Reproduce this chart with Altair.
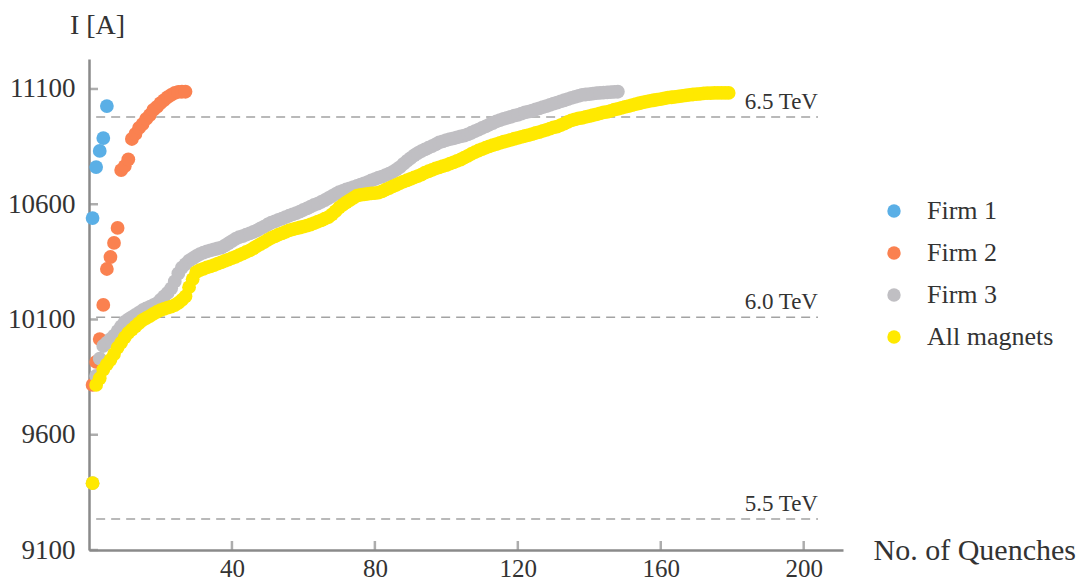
import altair as alt
import pandas as pd

# ---- data ----
series_names = ["Firm 1", "Firm 2", "Firm 3", "All magnets"]
series_colors = ["#5AAFE6", "#FA8150", "#C0BFC3", "#FFE900"]

firm1 = [10540, 10761, 10831, 10887, 11026]

firm2 = [9816, 9916, 10015, 10163, 10319, 10371, 10432, 10497, 10748, 10765,
         10795, 10883, 10905, 10931, 10948, 10970, 10987, 11009, 11022, 11039,
         11052, 11065, 11074, 11083, 11087, 11088, 11088]

firm3 = [9390, 9855, 9930, 9985, 10000, 10015, 10030, 10050, 10070, 10090,
         10100, 10110, 10120, 10130, 10140, 10148, 10155, 10162, 10170, 10185,
         10200, 10215, 10235, 10265, 10300, 10325, 10340, 10355, 10365, 10375,
         10383, 10390, 10395, 10400, 10404, 10408, 10412, 10420, 10430, 10440,
         10450, 10457, 10462, 10468, 10474, 10480, 10487, 10495, 10503, 10512,
         10520, 10526, 10532, 10538, 10544, 10550, 10556, 10561, 10568, 10575,
         10582, 10590, 10597, 10603, 10610, 10618, 10626, 10635, 10644, 10652,
         10658, 10664, 10669, 10674, 10679, 10685, 10690, 10696, 10703, 10709,
         10715, 10720, 10726, 10733, 10740, 10750, 10761, 10775, 10788, 10800,
         10812, 10822, 10830, 10838, 10845, 10852, 10860, 10868, 10873, 10878,
         10882, 10886, 10890, 10894, 10898, 10903, 10910, 10917, 10924, 10931,
         10938, 10945, 10952, 10959, 10965, 10970, 10975, 10979, 10984, 10988,
         10993, 10998, 11002, 11006, 11011, 11016, 11021, 11026, 11031, 11036,
         11041, 11046, 11051, 11056, 11061, 11066, 11070, 11074, 11076, 11078,
         11080, 11082, 11083, 11084, 11085, 11086, 11087, 11088]

all_magnets = [9390, 9816, 9845, 9882, 9905, 9925, 9950, 9978, 10000, 10022,
               10042, 10056, 10070, 10084, 10097, 10106, 10115, 10124, 10133, 10141,
               10146, 10151, 10156, 10162, 10172, 10185, 10200, 10240, 10275, 10305,
               10314, 10320, 10326, 10330, 10336, 10342, 10348, 10354, 10360, 10366,
               10372, 10379, 10386, 10393, 10400, 10409, 10418, 10427, 10436, 10445,
               10454, 10461, 10468, 10474, 10480, 10487, 10491, 10495, 10499, 10503,
               10507, 10512, 10518, 10524, 10530, 10537, 10544, 10556, 10570, 10585,
               10597, 10608, 10618, 10628, 10637, 10641, 10643, 10645, 10647, 10648,
               10650, 10656, 10663, 10670, 10677, 10684, 10691, 10698, 10704, 10710,
               10716, 10722, 10728, 10737, 10743, 10749, 10755, 10760, 10765, 10770,
               10776, 10782, 10788, 10794, 10802, 10810, 10818, 10826, 10833, 10839,
               10845, 10851, 10856, 10861, 10866, 10871, 10875, 10879, 10884, 10888,
               10892, 10896, 10900, 10904, 10909, 10913, 10918, 10923, 10928, 10933,
               10937, 10943, 10950, 10957, 10964, 10968, 10972, 10975, 10979, 10982,
               10986, 10990, 10994, 10998, 11001, 11005, 11010, 11014, 11018, 11022,
               11026, 11030, 11034, 11038, 11042, 11045, 11048, 11051, 11054, 11056,
               11059, 11062, 11064, 11066, 11068, 11070, 11072, 11074, 11076, 11078,
               11079, 11081, 11082, 11082, 11083, 11083, 11083, 11083, 11083]

ref_labels = ["5.5 TeV", "6.0 TeV", "6.5 TeV"]
ref_current = [9235, 10110, 10978]
ref_start = [2, 2, 2]
ref_end = [204, 204, 204]

x_ticks = [40, 80, 120, 160, 200]
y_ticks = [9100, 9600, 10100, 10600, 11100]

# ---- tables ----
rows = []
for z, (name, vals) in enumerate(zip(series_names, [firm1, firm2, firm3, all_magnets])):
    for i, v in enumerate(vals, start=1):
        rows.append({"series": name, "n": i, "I": v, "z": z})
df = pd.DataFrame(rows)

ref_df = pd.DataFrame({"label": ref_labels, "I": ref_current,
                       "x1": ref_start, "x2": ref_end})
xt_df = pd.DataFrame({"n": x_ticks, "I": [y_ticks[0]] * len(x_ticks)})
yt_df = pd.DataFrame({"I": y_ticks, "n": [0] * len(y_ticks)})

FONT = "'Liberation Serif', 'Times New Roman', serif"
TXT = "#333333"
AX = "#8a8a8a"

x_scale = alt.Scale(domain=[0, 211], nice=False, zero=False)
y_scale = alt.Scale(domain=[9100, 11230], nice=False, zero=False)

points = alt.Chart(df).mark_circle(size=190, opacity=1).encode(
    x=alt.X("n:Q", scale=x_scale,
            axis=alt.Axis(values=x_ticks, title="No. of Quenches", grid=False,
                          ticks=False, domainColor=AX, domainWidth=2.5,
                          labelFont=FONT, labelFontSize=25, labelColor=TXT,
                          labelPadding=6, titleFont=FONT, titleFontSize=30,
                          titleFontWeight="normal", titleColor=TXT,
                          titleAlign="left", titleBaseline="middle",
                          titleX=784, titleY=0)),
    y=alt.Y("I:Q", scale=y_scale,
            axis=alt.Axis(values=y_ticks, format="d", title="I [A]", grid=False,
                          ticks=False, domainColor=AX, domainWidth=2.5,
                          labelFont=FONT, labelFontSize=27, labelColor=TXT,
                          labelPadding=14, titleFont=FONT, titleFontSize=28,
                          titleFontWeight="normal", titleColor=TXT,
                          titleAngle=0, titleAlign="center",
                          titleBaseline="middle", titleX=8, titleY=-34)),
    color=alt.Color("series:N",
                    scale=alt.Scale(domain=series_names, range=series_colors),
                    legend=alt.Legend(title=None, orient="none", legendX=792,
                                      legendY=139, symbolType="circle",
                                      symbolSize=180, labelFont=FONT,
                                      labelFontSize=26, labelColor=TXT,
                                      labelOffset=20, rowPadding=16,
                                      padding=0)),
    order=alt.Order("z:Q"),
)

rules = alt.Chart(ref_df).mark_rule(strokeDash=[9, 6], color="#a3a3a3",
                                    strokeWidth=1.5).encode(
    x=alt.X("x1:Q", scale=x_scale), x2="x2:Q", y=alt.Y("I:Q", scale=y_scale))

rule_text = alt.Chart(ref_df).mark_text(align="right", baseline="bottom", dy=-3,
                                        font=FONT, fontSize=23,
                                        color=TXT).encode(
    x=alt.X("x2:Q", scale=x_scale), y=alt.Y("I:Q", scale=y_scale), text="label:N")

xticks = alt.Chart(xt_df).mark_tick(orient="vertical", size=9, thickness=2.5,
                                    yOffset=-4.5, color=AX).encode(
    x=alt.X("n:Q", scale=x_scale), y=alt.Y("I:Q", scale=y_scale))

yticks = alt.Chart(yt_df).mark_tick(orient="horizontal", size=9, thickness=2.5,
                                    xOffset=4.5, color=AX).encode(
    x=alt.X("n:Q", scale=x_scale), y=alt.Y("I:Q", scale=y_scale))

chart = alt.layer(rules, rule_text, xticks, yticks, points).properties(
    width=754, height=491,
    autosize=alt.AutoSizeParams(type="none"),
    padding={"left": 81, "top": 51, "right": 237, "bottom": 34},
).configure(
    font=FONT, background="white", view=alt.ViewConfig(stroke=None)
)

chart.save("out.html", embed_options={"renderer": "svg", "actions": False})
